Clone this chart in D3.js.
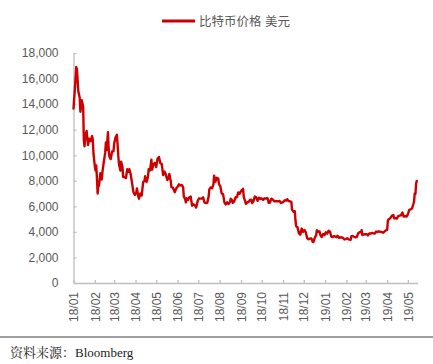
<!DOCTYPE html>
<html><head><meta charset="utf-8">
<script src="https://cdn.jsdelivr.net/npm/d3@7"></script>
<style>
html,body{margin:0;padding:0;background:#fff;}
svg{display:block;}
</style></head>
<body>
<script>
const seriesName = "比特币价格 美元";
const sourceText = "资料来源：Bloomberg";
const yTicks = [0,2000,4000,6000,8000,10000,12000,14000,16000,18000];
const monthTicks = ["2018-01-01","2018-02-01","2018-03-01","2018-04-01","2018-05-01","2018-06-01","2018-07-01","2018-08-01","2018-09-01","2018-10-01","2018-11-01","2018-12-01","2019-01-01","2019-02-01","2019-03-01","2019-04-01","2019-05-01"];
const dates = [
"2018-01-01","2018-01-03","2018-01-05","2018-01-06","2018-01-08","2018-01-10","2018-01-11","2018-01-13","2018-01-15","2018-01-16","2018-01-17","2018-01-18","2018-01-20","2018-01-22","2018-01-24","2018-01-26","2018-01-28","2018-01-29","2018-01-30",
"2018-02-01","2018-02-02","2018-02-03","2018-02-04","2018-02-05","2018-02-06","2018-02-07","2018-02-09","2018-02-11","2018-02-12","2018-02-14","2018-02-16","2018-02-17","2018-02-18","2018-02-20","2018-02-21","2018-02-22","2018-02-24","2018-02-26","2018-02-28",
"2018-03-01","2018-03-03","2018-03-05","2018-03-06","2018-03-07","2018-03-08","2018-03-10","2018-03-11","2018-03-13","2018-03-14","2018-03-16","2018-03-18","2018-03-20","2018-03-22","2018-03-23","2018-03-25","2018-03-27","2018-03-29","2018-03-31",
"2018-04-02","2018-04-03","2018-04-05","2018-04-06","2018-04-08","2018-04-10","2018-04-12","2018-04-14","2018-04-15","2018-04-17","2018-04-19","2018-04-20","2018-04-22","2018-04-24","2018-04-25","2018-04-27","2018-04-29",
"2018-05-01","2018-05-03","2018-05-05","2018-05-07","2018-05-09","2018-05-11","2018-05-13","2018-05-15","2018-05-17","2018-05-19","2018-05-20","2018-05-22","2018-05-23","2018-05-25","2018-05-28","2018-05-30",
"2018-06-01","2018-06-03","2018-06-05","2018-06-07","2018-06-09","2018-06-10","2018-06-12","2018-06-13","2018-06-14","2018-06-16","2018-06-18","2018-06-20","2018-06-22","2018-06-24","2018-06-26","2018-06-28","2018-06-30",
"2018-07-02","2018-07-04","2018-07-06","2018-07-08","2018-07-10","2018-07-12","2018-07-14","2018-07-16","2018-07-17","2018-07-19","2018-07-21","2018-07-23","2018-07-24","2018-07-26","2018-07-28","2018-07-30","2018-07-31",
"2018-08-02","2018-08-04","2018-08-06","2018-08-08","2018-08-10","2018-08-12","2018-08-14","2018-08-16","2018-08-17","2018-08-19","2018-08-20","2018-08-22","2018-08-24","2018-08-26","2018-08-28","2018-08-30",
"2018-09-01","2018-09-04","2018-09-05","2018-09-07","2018-09-08","2018-09-10","2018-09-12","2018-09-14","2018-09-16","2018-09-17","2018-09-19","2018-09-21","2018-09-23","2018-09-25","2018-09-27","2018-09-29",
"2018-10-01","2018-10-03","2018-10-05","2018-10-07","2018-10-09","2018-10-10","2018-10-11","2018-10-13","2018-10-15","2018-10-17","2018-10-19","2018-10-21","2018-10-23","2018-10-25","2018-10-27","2018-10-29","2018-10-31",
"2018-11-02","2018-11-04","2018-11-06","2018-11-07","2018-11-09","2018-11-11","2018-11-13","2018-11-14","2018-11-16","2018-11-18","2018-11-19","2018-11-20","2018-11-22","2018-11-24","2018-11-25","2018-11-26","2018-11-28","2018-11-30",
"2018-12-02","2018-12-04","2018-12-06","2018-12-08","2018-12-10","2018-12-12","2018-12-14","2018-12-15","2018-12-17","2018-12-19","2018-12-20","2018-12-22","2018-12-24","2018-12-25","2018-12-27","2018-12-29","2018-12-31",
"2019-01-02","2019-01-04","2019-01-06","2019-01-08","2019-01-10","2019-01-12","2019-01-14","2019-01-16","2019-01-18","2019-01-19","2019-01-21","2019-01-23","2019-01-25","2019-01-27","2019-01-29","2019-01-31",
"2019-02-02","2019-02-04","2019-02-06","2019-02-07","2019-02-08","2019-02-10","2019-02-12","2019-02-14","2019-02-16","2019-02-18","2019-02-20","2019-02-22","2019-02-23","2019-02-24","2019-02-26","2019-02-28",
"2019-03-02","2019-03-04","2019-03-06","2019-03-08","2019-03-10","2019-03-12","2019-03-14","2019-03-16","2019-03-18","2019-03-20","2019-03-22","2019-03-24","2019-03-26","2019-03-28","2019-03-30",
"2019-04-01","2019-04-02","2019-04-03","2019-04-05","2019-04-07","2019-04-08","2019-04-10","2019-04-11","2019-04-13","2019-04-15","2019-04-17","2019-04-19","2019-04-21","2019-04-23","2019-04-25","2019-04-27","2019-04-29",
"2019-05-01","2019-05-03","2019-05-05","2019-05-07","2019-05-09","2019-05-10","2019-05-11","2019-05-12","2019-05-13","2019-05-14"
];
const prices = [
13650,15200,16900,16700,15000,14500,13400,14300,13800,11200,10700,11500,11900,10800,11300,11100,11500,11200,10100,
9100,8800,9200,8200,7000,7700,7600,8600,8100,8700,9500,10200,11000,10400,11800,10500,9900,9700,10300,10300,
10900,11400,11600,10800,9900,9300,8800,9500,9100,8300,8300,8200,8900,8700,8900,8500,7800,7100,6900,
7050,7400,6780,6600,7000,6850,7900,8000,8350,7900,8300,8900,8800,9650,8870,9300,9400,
9070,9740,9860,9370,9320,8440,8720,8480,8060,8240,8530,7990,7500,7470,7110,7400,
7540,7720,7630,7680,7510,6780,6550,6310,6640,6500,6710,6760,6050,6150,6090,5900,6390,
6620,6600,6600,6710,6300,6250,6270,6740,7330,7480,7410,7720,8400,7930,8230,8180,7730,
7560,7010,6940,6290,6150,6320,6190,6330,6590,6490,6270,6370,6710,6710,7090,6980,
7190,7370,6720,6410,6200,6300,6340,6500,6520,6260,6390,6770,6710,6430,6670,6590,
6620,6500,6630,6600,6650,6580,6280,6300,6600,6530,6400,6410,6400,6400,6420,6260,6310,
6380,6480,6460,6560,6410,6400,6350,5740,5580,5620,4870,4450,4350,3880,4000,3780,4260,4000,
4150,3960,3500,3420,3480,3480,3220,3200,3540,3750,4130,4000,4030,3770,3600,3840,3740,
3970,3860,4080,4030,3630,3600,3670,3620,3600,3700,3540,3560,3580,3540,3410,3440,
3500,3410,3390,3370,3640,3680,3620,3570,3610,3900,3970,3990,4130,3750,3800,3820,
3820,3720,3880,3870,3920,3880,3870,4030,3990,4050,4000,3990,3930,4020,4110,
4150,4880,4980,5030,5200,5280,5320,5060,5080,5040,5240,5270,5290,5520,5200,5240,5200,
5360,5730,5770,5830,6180,6370,7010,6980,7800,7990
];

const W = 433, H = 364;
const parse = d3.timeParse("%Y-%m-%d");
const data = dates.map((d,i)=>({date: parse(d), value: prices[i]}));

const svg = d3.select("body").append("svg").attr("width", W).attr("height", H);

const x = d3.scaleTime().domain([parse("2018-01-01"), parse("2019-05-15")]).range([73.5, 417.5]);
const y = d3.scaleLinear().domain([0, 18000]).range([283, 53]);

const axisColor = "#bfbfbf", textColor = "#595959";
const font = "'Liberation Sans', Arial, 'Noto Sans CJK SC', sans-serif";

// Y axis
const gy = svg.append("g").attr("transform", "translate(73.5,0)")
  .call(d3.axisLeft(y).tickValues(yTicks).tickFormat(d3.format(",")).tickSizeInner(-3).tickSizeOuter(0).tickPadding(15));
gy.select(".domain").attr("stroke", axisColor).attr("stroke-width", 1.3);
gy.selectAll(".tick line").attr("stroke", axisColor).attr("stroke-width", 1.3);
gy.selectAll(".tick text").attr("fill", textColor).style("font-family", font).style("font-size", "12px");

// X axis
const gx = svg.append("g").attr("transform", "translate(0,283)")
  .call(d3.axisBottom(x).tickValues(monthTicks.map(parse)).tickFormat(d3.timeFormat("%y/%m")).tickSizeInner(-3).tickSizeOuter(0));
gx.select(".domain").attr("stroke", axisColor).attr("stroke-width", 1.3);
gx.selectAll(".tick line").attr("stroke", axisColor).attr("stroke-width", 1.3);
gx.selectAll(".tick text")
  .attr("fill", textColor).style("font-family", font).style("font-size", "12px")
  .attr("transform", "rotate(-90)")
  .attr("text-anchor", "end")
  .attr("x", -9).attr("y", 0).attr("dy", "0.35em");

// Line
const line = d3.line().x(d=>x(d.date)).y(d=>y(d.value));
svg.append("path").datum(data)
  .attr("d", line).attr("fill", "none")
  .attr("stroke", "#cc0000").attr("stroke-width", 2.4)
  .attr("stroke-linejoin", "round").attr("stroke-linecap", "round");

// Legend
svg.append("line").attr("x1", 162).attr("x2", 195).attr("y1", 21).attr("y2", 21)
  .attr("stroke", "#cc0000").attr("stroke-width", 3);
svg.append("text").attr("x", 199).attr("y", 25.5).text(seriesName)
  .attr("fill", textColor).style("font-family", font).style("font-size", "12.5px");

// Source line and text
svg.append("line").attr("x1", 0).attr("x2", W).attr("y1", 337).attr("y2", 337)
  .attr("stroke", "#7f7f7f").attr("stroke-width", 1.5);
svg.append("text").attr("x", 10).attr("y", 357).text(sourceText)
  .attr("fill", "#222").style("font-family", "'Liberation Serif', 'Noto Serif CJK SC', 'Noto Sans CJK SC', serif").style("font-size", "13px");
</script>
</body></html>
